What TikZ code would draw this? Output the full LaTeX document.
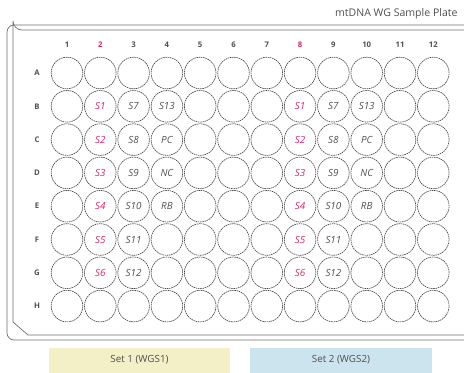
\documentclass[tikz,border=0pt]{standalone}
\usepackage{fontspec}
\setmainfont{Open Sans}
\usepackage{tikz}
\usetikzlibrary{positioning}
\definecolor{plategray}{RGB}{110,110,110}
\definecolor{wellgray}{RGB}{70,70,70}
\definecolor{textgray}{RGB}{80,80,80}
\definecolor{setpink}{RGB}{214,40,112}
\definecolor{boxyellow}{RGB}{243,239,199}
\definecolor{boxblue}{RGB}{204,228,237}

\begin{document}
\begin{tikzpicture}[
    x=0.05cm, y=-0.05cm,
    well/.style={circle, draw=wellgray, dash pattern=on 2.2pt off 1pt, line width=0.9pt,
                 minimum size=1.58cm, inner sep=0pt,
                 font=\fontsize{14}{14}\selectfont\itshape, text=textgray},
    wellname/.style={well, draw=none},
    pinkname/.style={wellname, text=setpink},
    collabel/.style={font=\fontsize{11}{11}\selectfont\bfseries, text=textgray},
    rowlabel/.style={font=\fontsize{11}{11}\selectfont\bfseries, text=textgray},
    setbox/.style={rectangle, minimum width=9.1cm, minimum height=1.25cm,
                   font=\fontsize{14}{14}\selectfont, text=textgray},
    plateline/.style={draw=plategray, line width=1pt}
]
\useasboundingbox (0,0) rectangle (464,372);
\clip (0,0) rectangle (464,372);

% plate outline
\draw[plateline, rounded corners=10] (480,25) -- (7,25) -- (7,340) -- (480,340);
\draw[plateline] (480,30) -- (22,30) arc[start angle=90, end angle=180, radius=9]
    -- (13,322) -- (28,335) -- (480,335);

% title
\node[anchor=east, font=\fontsize{15}{15}\selectfont, text=textgray] (title) at (460,14) {mtDNA WG Sample Plate};

% column and row labels
\foreach \c in {1,...,12} {
    \ifnum\c=2 \def\cc{setpink}\else\ifnum\c=8 \def\cc{setpink}\else\def\cc{textgray}\fi\fi
    \node[collabel, text=\cc] (col-\c) at ({67+(\c-1)*33.3},45) {\c};
}
\foreach \r [count=\i from 0] in {A,B,C,D,E,F,G,H} {
    \node[rowlabel] (row-\r) at (37,{73+\i*33.3}) {\r};
    \foreach \c in {1,...,12}
        \node[well] (well-\r-\c) at ({67+(\c-1)*33.3},{73+\i*33.3}) {};
}

% sample labels
\foreach \r/\a/\b/\d in {B/S1/S7/S13, C/S2/S8/PC, D/S3/S9/NC, E/S4/S10/RB, F/S5/S11/, G/S6/S12/} {
    \node[pinkname] (name-\r-2) at (well-\r-2) {\a};
    \node[pinkname] (name-\r-8) at (well-\r-8) {\a};
    \node[wellname] (name-\r-3) at (well-\r-3) {\b};
    \node[wellname] (name-\r-9) at (well-\r-9) {\b};
    \node[wellname] (name-\r-4) at (well-\r-4) {\d};
    \node[wellname] (name-\r-10) at (well-\r-10) {\d};
}

% legend
\node[setbox, fill=boxyellow] (set-1) at (139.5,360) {Set 1 (WGS1)};
\node[setbox, fill=boxblue] (set-2) at (341,360) {Set 2 (WGS2)};
\end{tikzpicture}
\end{document}
